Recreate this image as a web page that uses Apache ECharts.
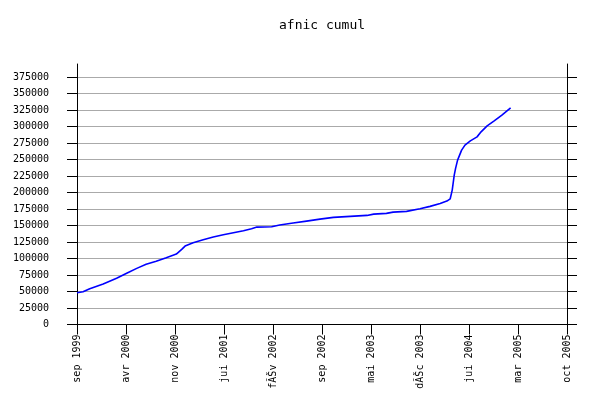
<!DOCTYPE html>
<html>
<head>
<meta charset="utf-8">
<script src="https://cdn.jsdelivr.net/npm/echarts@6/dist/echarts.min.js"></script>
<style>html,body{margin:0;padding:0;background:#fff}#c{width:600px;height:400px}</style>
</head>
<body>
<div id="c"></div>
<script>
// x: months since Sep 1999
var months = [0, 0.9, 1.9, 3.9, 5.9, 7.4, 8.9, 10.3, 11.8, 13.3, 14.8, 15.6, 16.1, 17.3, 18.8, 20.3, 21.8, 23.3, 24.8, 26, 26.8, 28, 29, 30.2, 32.2, 34.2, 36.2, 38.2, 40.7, 43.2, 44.2, 46.1, 47.1, 49.1, 51.1, 52.6, 54.1, 55.1, 55.6, 55.9, 56, 56.2, 56.4, 56.7, 57, 57.3, 57.8, 58.6, 59.6, 60.2, 61.1, 62.1, 63.3, 64.6];
var values = [48200, 49700, 54300, 61400, 70000, 77600, 85100, 91200, 95800, 101200, 106800, 113900, 118900, 124000, 128500, 132600, 136100, 139100, 142100, 145200, 147700, 147800, 148200, 150800, 153800, 156800, 159800, 162400, 163900, 165400, 167400, 168500, 170400, 171500, 175500, 179100, 183600, 187100, 190600, 203800, 211400, 226500, 236700, 249200, 256800, 264400, 272000, 278500, 284500, 292100, 301200, 308300, 317400, 328500];
var xTickLabels = ['sep 1999', 'avr 2000', 'nov 2000', 'jui 2001', 'fÃŠv 2002', 'sep 2002', 'mai 2003', 'dÃŠc 2003', 'jui 2004', 'mar 2005', 'oct 2005'];
var yTicks = [0, 25000, 50000, 75000, 100000, 125000, 150000, 175000, 200000, 225000, 250000, 275000, 300000, 325000, 350000, 375000];

var xStep = 7.3;
var data = months.map(function (m, i) { return [m, values[i]]; });
var font = 'DejaVu Sans Mono';

var chart = echarts.init(document.getElementById('c'));
chart.setOption({
  animation: false,
  title: { text: 'afnic cumul', left: 274, top: 14, textStyle: { fontFamily: font, fontSize: 13, fontWeight: 'normal', color: '#000' } },
  grid: { left: 77, right: 33, top: 64, bottom: 75.5 },
  xAxis: {
    type: 'value', min: 0, max: xStep * 10, interval: xStep,
    axisLine: { onZero: false, lineStyle: { color: '#000', width: 1 } },
    axisTick: { show: true, length: 10, inside: false, lineStyle: { color: '#000' } },
    splitLine: { show: false },
    axisLabel: {
      rotate: 90, margin: 10, fontFamily: font, fontSize: 10, color: '#000',
      formatter: function (v) { return xTickLabels[Math.round(v / xStep)] || ''; }
    }
  },
  yAxis: [{
    type: 'value', min: 0, max: 395000, interval: 25000, position: 'left',
    axisLine: { show: true, lineStyle: { color: '#000', width: 1 } },
    axisTick: { show: true, length: 10, customValues: yTicks, lineStyle: { color: '#000' } },
    axisLabel: { margin: 28, customValues: yTicks, fontFamily: font, fontSize: 10, color: '#000',
      formatter: function (v) { return String(v); } },
    splitLine: { show: true, lineStyle: { color: '#aaaaaa', width: 1 } }
  }, {
    type: 'value', min: 0, max: 395000, interval: 25000, position: 'right',
    axisLine: { show: true, lineStyle: { color: '#000', width: 1 } },
    axisTick: { show: true, length: 10, customValues: yTicks, lineStyle: { color: '#000' } },
    axisLabel: { show: false },
    splitLine: { show: false }
  }],
  series: [{
    type: 'line', data: data, showSymbol: false, symbol: 'none',
    lineStyle: { color: '#0000ff', width: 1.6 }
  }]
});
</script>
</body>
</html>
